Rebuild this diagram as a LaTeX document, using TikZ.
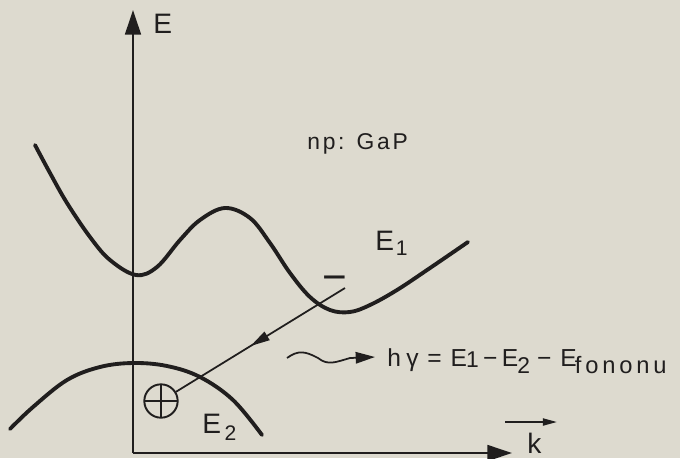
\documentclass[tikz,border=0pt]{standalone}
\usepackage{fontspec}
\setmainfont{Liberation Sans}
\newfontfamily\wide{Liberation Sans}[LetterSpace=12]
\newfontfamily\wider{Liberation Sans}[LetterSpace=16]
\usetikzlibrary{arrows.meta,decorations.markings}
\definecolor{paper}{RGB}{221,218,207}
\definecolor{ink}{RGB}{32,30,30}
\newcommand\lowsub[3][13]{\raisebox{-#2}{\fontsize{#1}{#1}\selectfont #3}}
\begin{document}
\begin{tikzpicture}[x=0.02cm,y=-0.02cm,
	band/.style={ ink, line width=2.2pt, line cap=round },
	axis/.style={ ink, line width=1.3pt, -{Triangle[length=14pt,width=9pt]} },
	lbl/.style={ ink, inner sep=0pt, anchor=base west, font=\fontsize{16}{18}\selectfont },
	hole/.style={ circle, draw=ink, line width=1.1pt, inner sep=0pt, minimum size=19pt,
		path picture={ \draw[ink, line width=1.1pt] (path picture bounding box.north) -- (path picture bounding box.south)
			(path picture bounding box.west) -- (path picture bounding box.east); } },
	recomb/.style={ ink, line width=1pt, postaction=decorate,
		decoration={ markings, mark=at position 0.56 with {\arrow{Triangle[length=11pt,width=5.5pt]}} } }
]
\fill[paper] (0,0) rectangle (680,458);
\useasboundingbox (0,0) rectangle (680,458);

% axes
\coordinate (orig) at (133,453);
\coordinate (etop) at (133,10);
\coordinate (kend) at (512,453);
\draw[axis] (orig) -- (etop);
\draw[axis] (orig) -- (kend);
\node[lbl] (elab) at (153,33) {E};
\node[lbl] (klab) at (527,453) {k};
\coordinate (kvs) at (505,422);
\coordinate (kve) at (557,422);
\draw[ink, line width=1pt, -{Triangle[length=8pt,width=4pt]}] (kvs) -- (kve);

% bands
\draw[band] plot[smooth, tension=0.6] coordinates {(35,145) (50,173) (67,203) (90,237) (110,260) (136,275)
	(157,267) (180,240) (200,220) (225,208) (250,218) (270,243) (290,273) (310,297) (330,310)
	(350,312) (370,305) (397,290) (430,268) (468,242)};
\draw[band] plot[smooth, tension=0.6] coordinates {(10,429) (33,407) (67,380) (100,367) (133,363)
	(167,366) (200,377) (233,400) (262,435)};
\node[lbl] (eone) at (375,250) {E\hspace{1pt}\lowsub[12]{3pt}{1}};
\node[lbl] (etwo) at (202,433) {E\hspace{2pt}\lowsub[12]{4pt}{2}};
\node[lbl, font=\wide\fontsize{13}{15}\selectfont] (mat) at (307,149) {np: GaP};

% carriers and recombination
\node[ink, inner sep=0pt, font=\fontsize{24}{24}\selectfont] (elec) at (335,284) {−};
\node[hole] (hole) at (161,401) {};
\coordinate (etail) at (345,288);
\draw[recomb] (etail) -- (hole);

% emitted photon
\node[lbl, font=\fontsize{14}{16}\selectfont] (photon) at (387,366)
	{h\hspace{3pt}γ\hspace{5pt}=\hspace{5pt}E\hspace{-0.5pt}\lowsub{1pt}{1}\hspace{2.5pt}−\hspace{2.5pt}E\hspace{-0.5pt}\lowsub{4.5pt}{2}\hspace{4pt}−\hspace{5pt}E\hspace{-1pt}\lowsub[13.5]{4pt}{\wider fononu}};
\coordinate (wstart) at (287,358);
\coordinate (wend) at (375,357);
\draw[ink, line width=1pt, -{Triangle[length=11pt,width=6.5pt]}] (wstart)
	.. controls (298,350) and (305,351) .. (318,358)
	.. controls (328,366) and (336,362) .. (350,358) -- (wend);

\end{tikzpicture}
\end{document}
